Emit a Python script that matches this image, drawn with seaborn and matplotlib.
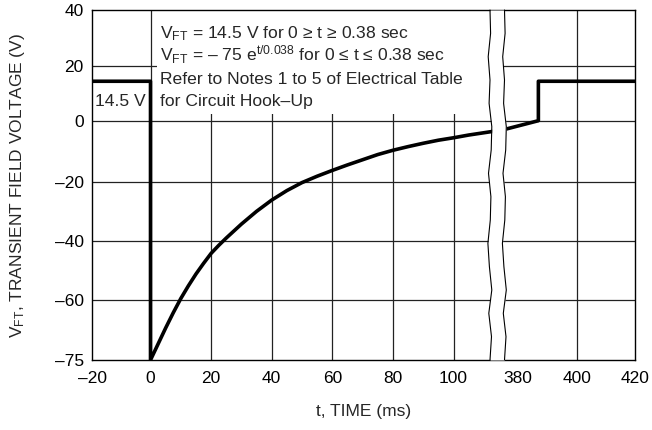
import numpy as np
import matplotlib
matplotlib.use("Agg")
import matplotlib.pyplot as plt
import seaborn as sns

# Values (t in ms, V in volts)
t_ms = [-20, 0, 0, 2.5, 5, 7.5, 10, 12.5, 15, 17.5, 20, 22.5, 25, 30, 35, 40, 45, 50, 55, 60,
        65, 70, 75, 80, 85, 90, 95, 100, 105, 111, 375, 387, 387, 420]
v_ft = [14.5, 14.5, -75, -71, -67, -63.2, -59.5, -55.2, -51.2, -47.6, -44.2, -41.5, -39.0, -34.3,
        -30, -26.2, -23, -20.3, -18.2, -16.3, -14.5, -12.8, -11.1, -9.7, -8.5, -7.4, -6.4, -5.6,
        -4.7, -3.8, -3.0, 0.0, 14.5, 14.5]

x_ticks = [-20, 0, 20, 40, 60, 80, 100, 380, 400, 420]
y_ticks = [40, 20, 0, -20, -40, -60, -75]
x_grid = [0, 20, 40, 60, 80, 100, 400]
y_grid = [20, 0, -20, -40, -60]

notes = [
    r"V$_{\mathrm{FT}}$ = 14.5 V for 0 ≥ t ≥ 0.38 sec",
    r"V$_{\mathrm{FT}}$ = – 75 e$^{\mathrm{t/0.038}}$ for 0 ≤ t ≤ 0.38 sec",
    "Refer to Notes 1 to 5 of Electrical Table",
    "for Circuit Hook–Up",
]

# the original grid is hand drawn: broken time axis, uneven voltage spacing
x_knots = ([-20, 0, 100, 112, 375, 400, 420], [92, 150.5, 453.5, 490, 503, 576.7, 635])
y_knots = ([-75, -60, -40, -20, 0, 20, 40], [70, 130, 189, 248.3, 309.3, 363.7, 420])


def piecewise(xp, fp):
    xp = np.asarray(xp, float)
    fp = np.asarray(fp, float)

    def f(x):
        x = np.asarray(x, float)
        y = np.interp(x, xp, fp)
        y = np.where(x < xp[0], fp[0] + (x - xp[0]) * (fp[1] - fp[0]) / (xp[1] - xp[0]), y)
        y = np.where(x > xp[-1], fp[-1] + (x - xp[-1]) * (fp[-1] - fp[-2]) / (xp[-1] - xp[-2]), y)
        return y
    return f


fx, fx_inv = piecewise(*x_knots), piecewise(x_knots[1], x_knots[0])
fy, fy_inv = piecewise(*y_knots), piecewise(y_knots[1], y_knots[0])

sns.set_style("white")
plt.rcParams['font.family'] = ['Liberation Sans', 'DejaVu Sans']
plt.rcParams['mathtext.fontset'] = 'custom'
plt.rcParams['mathtext.rm'] = 'Liberation Sans'
plt.rcParams['mathtext.it'] = 'Liberation Sans:italic'

fig = plt.figure(figsize=(6.52, 4.30), dpi=100)
ax = fig.add_axes([92 / 652, 70 / 430, 543 / 652, 350 / 430])
ax.set_xscale('function', functions=(fx, fx_inv))
ax.set_yscale('function', functions=(fy, fy_inv))
ax.set_xlim(-20, 420)
ax.set_ylim(-75, 40)

for g in x_grid:
    ax.axvline(g, color='#222222', lw=0.9, zorder=1)
for g in y_grid:
    ax.axhline(g, color='#222222', lw=0.9, zorder=1)

# white panel behind the notes
ax.fill_between([2, 113], 2.5, 40, color='white', lw=0, zorder=2)

sns.lineplot(x=t_ms, y=v_ft, sort=False, estimator=None, color='black', lw=2.6, ax=ax, zorder=3)

# axis break (white band between two wavy lines)
wig = np.array([0, 0.5, -0.4, 0.6, -0.2, -0.7, 0.1, 0.3, -0.5, 0.4, 0.6, -0.3, 0, -0.6, 0.2, 0])
yy = np.linspace(0, 1, len(wig))
span = fx(420) - fx(-20)
xl = (fx(112) - fx(-20)) / span + wig * 3.0 / 543
xr = (fx(375) - fx(-20)) / span + (wig * 3.0 + 1.5) / 543
ax.fill_betweenx(yy, xl, xr, color='white', lw=0, transform=ax.transAxes, zorder=4, clip_on=False)
ax.plot(xl, yy, color='black', lw=0.8, transform=ax.transAxes, zorder=5, clip_on=False)
ax.plot(xr, yy, color='black', lw=0.8, transform=ax.transAxes, zorder=5, clip_on=False)

for txt, yb in zip(notes, [30.0, 21.9, 13.5, 5.4]):
    ax.text(3.2, yb, txt, fontsize=12.6, va='baseline', ha='left', zorder=6)
ax.text(-19, 5.4, "14.5 V", fontsize=12.6, va='baseline', ha='left', zorder=6)

ax.set_xticks(x_ticks)
ax.set_xticklabels([str(v).replace('-', '–') for v in x_ticks])
ax.set_yticks(y_ticks)
ax.set_yticklabels([str(v).replace('-', '–') for v in y_ticks])
ax.tick_params(axis='both', length=0, labelsize=12.5, colors='black')
ax.tick_params(axis='x', pad=8)
ax.tick_params(axis='y', pad=6)
ax.minorticks_off()

ax.set_xlabel("t, TIME (ms)", fontsize=12.5)
ax.set_ylabel(r"V$_{\mathrm{FT}}$, TRANSIENT FIELD VOLTAGE (V)", fontsize=12.5)
ax.xaxis.set_label_coords(0.5, -0.125)
ax.yaxis.set_label_coords(-0.12, 0.5)

for s in ax.spines.values():
    s.set_color('black')
    s.set_linewidth(1.0)
    s.set_zorder(3.5)

fig.savefig("out.png", dpi=100)
